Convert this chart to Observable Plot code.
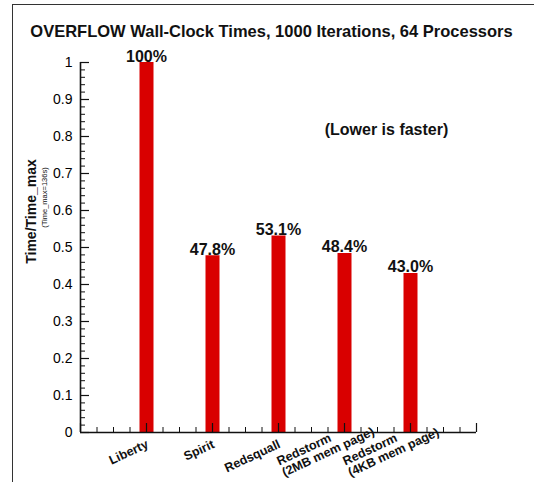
<!DOCTYPE html>
<html>
<head>
<meta charset="utf-8">
<script src="https://cdn.jsdelivr.net/npm/d3@7"></script>
<script src="https://cdn.jsdelivr.net/npm/@observablehq/plot@0.6"></script>
<style>
  html, body { margin: 0; padding: 0; background: #fff; }
  #wrap { position: relative; width: 534px; height: 482px; overflow: hidden; background: #fff; }
  #frame { position: absolute; left: 12px; top: 4px; width: 600px; height: 600px;
           border-top: 1.5px solid #333; border-left: 1.5px solid #333; }
  #chart { position: absolute; left: 0; top: 0; }
</style>
</head>
<body>
<div id="wrap"><div id="frame"></div><div id="chart"></div></div>
<script>
const title = "OVERFLOW Wall-Clock Times, 1000 Iterations, 64 Processors";
const categories = ["Liberty", "Spirit", "Redsquall", "Redstorm\n(2MB mem page)", "Redstorm\n(4KB mem page)"];
const values = [1.0, 0.478, 0.531, 0.484, 0.430];
const valueLabels = ["100%", "47.8%", "53.1%", "48.4%", "43.0%"];
const yTickValues = [0, 0.1, 0.2, 0.3, 0.4, 0.5, 0.6, 0.7, 0.8, 0.9, 1];
const yTickLabels = ["0", "0.1", "0.2", "0.3", "0.4", "0.5", "0.6", "0.7", "0.8", "0.9", "1"];
const yLabel = "Time/Time_max";
const yLabel2 = "(Time_max=136s)";
const note = "(Lower is faster)";

const data = categories.map((c, i) => ({name: c, pos: i + 1, value: values[i], label: valueLabels[i], multi: c.includes("\n")}));

const W = 534, H = 482, mL = 80, mR = 58, mT = 62, mB = 50;
const iw = W - mL - mR, ih = H - mT - mB;
const xMajor = d3.range(0, 7, 1);
const xMinor = d3.range(0, 6.001, 0.25);
const yMinor = d3.range(0, 1.001, 0.02);
const font = "'Liberation Sans', Arial, sans-serif";

const chart = Plot.plot({
  width: W, height: H,
  marginLeft: mL, marginRight: mR, marginTop: mT, marginBottom: mB,
  style: {fontFamily: font, background: "transparent", color: "#000", overflow: "visible"},
  x: {type: "linear", domain: [0, 6], axis: null},
  y: {domain: [0, 1], axis: null},
  marks: [
    Plot.ruleX(data, {x: "pos", y1: 0, y2: "value", stroke: "#d90000", strokeWidth: 14}),
    Plot.tickY(yMinor, {y: d => d, insetRight: iw - 5, stroke: "#111", strokeWidth: 1}),
    Plot.tickY(yTickValues, {y: d => d, insetRight: iw - 9, stroke: "#111", strokeWidth: 1.2}),
    Plot.tickX(xMinor, {x: d => d, insetTop: ih - 5, stroke: "#111", strokeWidth: 1}),
    Plot.tickX(xMajor, {x: d => d, insetTop: ih - 9, stroke: "#111", strokeWidth: 1.2}),
    Plot.ruleX([0], {y1: 0, y2: 1, stroke: "#111", strokeWidth: 1.6}),
    Plot.ruleY([0], {x1: 0, x2: 6, stroke: "#111", strokeWidth: 1.6}),
    Plot.axisY(yTickValues, {tickSize: 0, tickPadding: 8, fontSize: 14, label: null,
      tickFormat: d => yTickLabels[yTickValues.indexOf(d)]}),
    Plot.text(data, {x: "pos", y: "value", text: "label", lineAnchor: "bottom", dy: -1,
      fontSize: 16, fontWeight: "bold", fill: "#111"}),
    Plot.text(data.filter(d => !d.multi), {x: "pos", y: 0, text: "name", textAnchor: "end", lineAnchor: "middle",
      rotate: -25, dx: 1, dy: 11, fontSize: 12.5, fontWeight: "bold", fill: "#111"}),
    Plot.text(data.filter(d => d.multi), {x: "pos", y: 0, text: "name", textAnchor: "start", lineAnchor: "top",
      rotate: -25, dx: -69, dy: 25, lineHeight: 1.0, fontSize: 12.5, fontWeight: "bold", fill: "#111"}),
    Plot.text([title], {frameAnchor: "top", text: d => d, lineAnchor: "bottom", dx: -7, dy: -26,
      fontSize: 16.5, fontWeight: "bold", fill: "#111"}),
    Plot.text([note], {frameAnchor: "top-left", text: d => d, lineAnchor: "bottom", textAnchor: "middle",
      dx: 306, dy: 72, fontSize: 16, fontWeight: "bold", fill: "#111"}),
    Plot.text([yLabel], {frameAnchor: "left", text: d => d, rotate: -90, lineAnchor: "middle", textAnchor: "middle",
      dx: -49, dy: -36, fontSize: 14, fontWeight: "bold", fill: "#111"}),
    Plot.text([yLabel2], {frameAnchor: "left", text: d => d, rotate: -90, lineAnchor: "middle", textAnchor: "middle",
      dx: -36, dy: -50, fontSize: 7.5, fill: "#111"})
  ]
});
document.getElementById("chart").appendChild(chart);
</script>
</body>
</html>
